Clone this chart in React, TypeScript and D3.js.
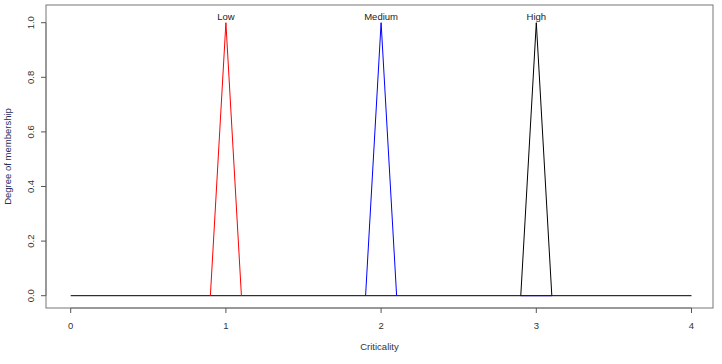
import React from 'react';
import * as d3 from 'd3';

const WIDTH = 722;
const HEIGHT = 364;

// membership functions (x = criticality, y = degree)
const baseline: [number, number][] = [[0, 0], [4, 0]];
const lowSet: [number, number][] = [[0.9, 0], [1, 1], [1.1, 0]];
const mediumSet: [number, number][] = [[1.9, 0], [2, 1], [2.1, 0]];
const highSet: [number, number][] = [[2.9, 0], [3, 1], [3.1, 0]];
const highBase: [number, number][] = [[2.9, 0], [3.1, 0]];

const setLabels = ['Low', 'Medium', 'High'];
const labelX = [1, 2, 3];
const xTicks = [0, 1, 2, 3, 4];
const yTicks = [0, 0.2, 0.4, 0.6, 0.8, 1.0];

const BOX = { left: 46, right: 713, top: 5, bottom: 308 };
const FONT = "'Liberation Sans', Arial, sans-serif";

const App: React.FC = () => {
  const x = d3.scaleLinear().domain([0, 4]).range([70.7, 691.5]);
  const y = d3.scaleLinear().domain([0, 1]).range([295.7, 22.7]);

  const line = d3.line<[number, number]>()
    .x(d => x(d[0]))
    .y(d => y(d[1]));

  const series = [
    { data: baseline, color: '#000000' },
    { data: lowSet, color: '#ff0000' },
    { data: mediumSet, color: '#0000ff' },
    { data: highSet, color: '#000000' },
    { data: highBase, color: '#0000ff' },
  ];

  return (
    <svg
      width={WIDTH}
      height={HEIGHT}
      style={{ position: 'absolute', left: 0, top: 0, background: '#fff' }}
      fontFamily={FONT}
    >
      <rect x={0} y={0} width={WIDTH} height={HEIGHT} fill="#fff" />

      {/* series */}
      {series.map((s, i) => (
        <path key={i} d={line(s.data) || ''} fill="none" stroke={s.color} strokeWidth={1} />
      ))}

      {/* set labels */}
      {setLabels.map((lab, i) => (
        <text key={lab} x={x(labelX[i])} y={y(1) - 3} textAnchor="middle" fontSize={9.5} fill="#222">
          {lab}
        </text>
      ))}

      {/* plot box */}
      <rect
        x={BOX.left}
        y={BOX.top}
        width={BOX.right - BOX.left}
        height={BOX.bottom - BOX.top}
        fill="none"
        stroke="#777"
        strokeWidth={1}
      />

      {/* x axis */}
      <line x1={x(0)} x2={x(4)} y1={BOX.bottom} y2={BOX.bottom} stroke="#777" />
      {xTicks.map(t => (
        <g key={t} transform={`translate(${x(t)},0)`}>
          <line y1={BOX.bottom} y2={BOX.bottom + 5} stroke="#555" />
          <text y={328.5} textAnchor="middle" fontSize={9.5} fill="#333">{t}</text>
        </g>
      ))}
      <text x={(BOX.left + BOX.right) / 2} y={350} textAnchor="middle" fontSize={9.5} fill="#333">
        Criticality
      </text>

      {/* y axis */}
      <line x1={BOX.left} x2={BOX.left} y1={y(0)} y2={y(1)} stroke="#777" />
      {yTicks.map(t => (
        <g key={t} transform={`translate(0,${y(t)})`}>
          <line x1={BOX.left - 5} x2={BOX.left} stroke="#555" />
          <text
            transform="translate(33.5,0) rotate(-90)"
            textAnchor="middle"
            fontSize={9.5}
            fill="#333"
          >
            {d3.format('.1f')(t)}
          </text>
        </g>
      ))}
      <text
        transform={`translate(10.5,${(BOX.top + BOX.bottom) / 2}) rotate(-90)`}
        textAnchor="middle"
        fontSize={9.5}
        fill="#26305e"
      >
        Degree of membership
      </text>
    </svg>
  );
};

export default App;
